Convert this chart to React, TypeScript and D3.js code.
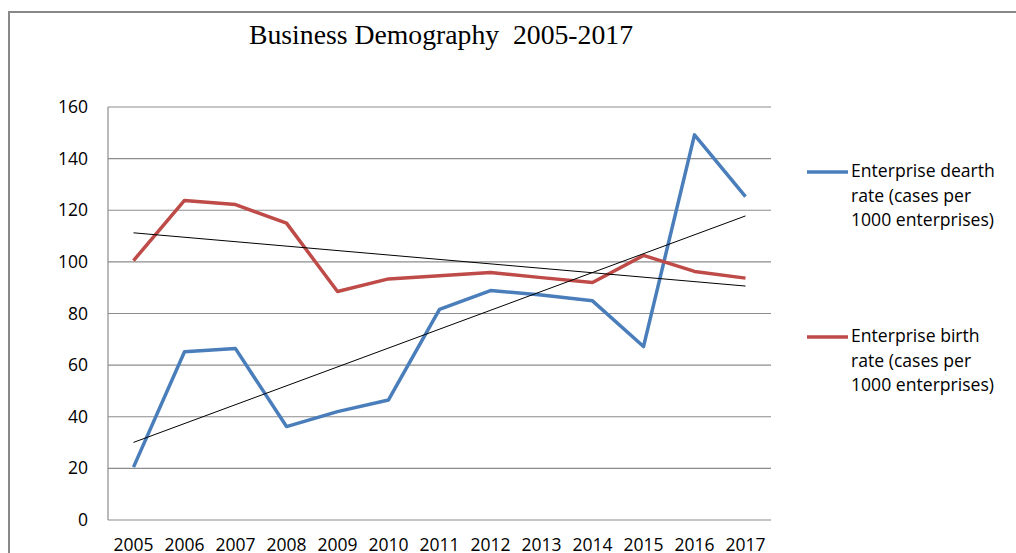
import React from "react";
import * as d3 from "d3";

const years = ["2005","2006","2007","2008","2009","2010","2011","2012","2013","2014","2015","2016","2017"];
const dearthRate = [20.5, 65.2, 66.4, 36.2, 42.0, 46.5, 81.6, 88.9, 87.2, 84.9, 67.2, 149.2, 125.3];
const birthRate = [100.5, 123.8, 122.2, 115.0, 88.5, 93.4, 94.6, 95.9, 93.9, 92.0, 102.5, 96.3, 93.7];
const yTicks = [0, 20, 40, 60, 80, 100, 120, 140, 160];
const seriesNames = [
  ["Enterprise dearth", "rate (cases per", "1000 enterprises)"],
  ["Enterprise birth", "rate (cases per", "1000 enterprises)"],
];
const colors = ["#4A7EBB", "#BE4B48"];
const title = "Business Demography  2005-2017";

function linreg(vals: number[]) {
  const n = vals.length;
  const xs = vals.map((_, i) => i);
  const mx = d3.mean(xs)!;
  const my = d3.mean(vals)!;
  let num = 0, den = 0;
  for (let i = 0; i < n; i++) {
    num += (xs[i] - mx) * (vals[i] - my);
    den += (xs[i] - mx) ** 2;
  }
  const b = num / den;
  const a = my - b * mx;
  return (i: number) => a + b * i;
}

export default function App() {
  const W = 1016, H = 553;
  const left = 108, right = 771, top = 107, bottom = 520;
  const x = d3.scaleBand<string>().domain(years).range([left, right]);
  const cx = (i: number) => x(years[i])! + x.bandwidth() / 2;
  const y = d3.scaleLinear().domain([0, 160]).range([bottom, top]);
  const line = d3.line<number>().x((_, i) => cx(i)).y((d) => y(d));
  const series = [dearthRate, birthRate];
  const font = "'Open Sans', sans-serif";
  const legendY = [172, 337];

  return (
    <svg width={W} height={H} style={{ position: "absolute", left: 0, top: 0, background: "#fff" }}>
      <rect x={9} y={12} width={1100} height={700} fill="#fff" stroke="#898989" strokeWidth={2} />
      <text x={441} y={44} textAnchor="middle" fontFamily="'Liberation Serif', 'Times New Roman', serif" fontSize={27}
        textLength={384} lengthAdjust="spacingAndGlyphs" fill="#000" style={{ whiteSpace: "pre" }}>{title}</text>
      {yTicks.map((t) => (
        <g key={t}>
          <line x1={left} x2={right} y1={y(t)} y2={y(t)} stroke="#8c8c8c" strokeWidth={1.2} />
          <text x={88} y={y(t) + 6} textAnchor="end" fontFamily={font} fontSize={17.5} fill="#000">{t}</text>
        </g>
      ))}
      <line x1={left} x2={left} y1={top} y2={bottom} stroke="#8c8c8c" strokeWidth={1.2} />
      {years.map((yr, i) => (
        <text key={yr} x={cx(i)} y={551} textAnchor="middle" fontFamily={font} fontSize={17.5} fill="#000">{yr}</text>
      ))}
      {series.map((s, k) => (
        <path key={k} d={line(s)!} fill="none" stroke={colors[k]} strokeWidth={3.5} strokeLinejoin="round" />
      ))}
      {series.map((s, k) => {
        const f = linreg(s);
        return (
          <line key={"t" + k} x1={cx(0)} y1={y(f(0))} x2={cx(s.length - 1)} y2={y(f(s.length - 1))}
            stroke="#000" strokeWidth={1} />
        );
      })}
      {seriesNames.map((lines, k) => (
        <g key={"l" + k}>
          <line x1={807} x2={848} y1={legendY[k]} y2={legendY[k]} stroke={colors[k]} strokeWidth={3.5} />
          {lines.map((ln, j) => (
            <text key={j} x={851} y={legendY[k] + 5 + j * 24.5} fontFamily={font} fontSize={17.6} fill="#000">{ln}</text>
          ))}
        </g>
      ))}
    </svg>
  );
}
